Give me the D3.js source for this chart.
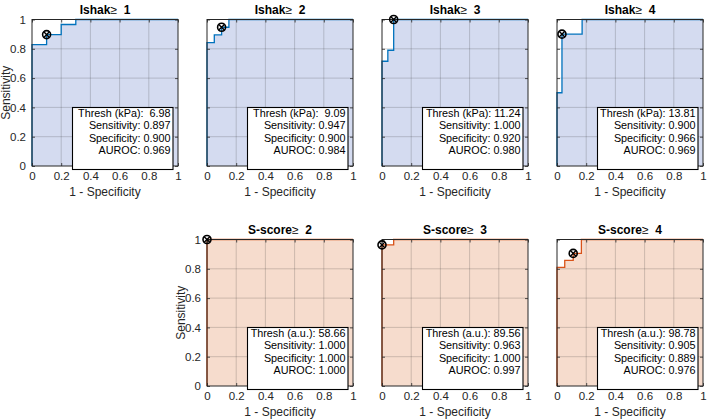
<!DOCTYPE html>
<html>
<head>
<meta charset="utf-8">
<script src="https://cdn.jsdelivr.net/npm/d3@7"></script>
<style>
  html, body { margin: 0; padding: 0; background: #fff; }
  svg text { font-family: "Liberation Sans", Arial, Helvetica, sans-serif; white-space: pre; }
</style>
</head>
<body>
<svg id="chart" width="709" height="420"></svg>
<script>
// ---------------- data ----------------
const panelTitles = ["Ishak", "Ishak", "Ishak", "Ishak", "S-score", "S-score", "S-score"];
const panelLevels = [1, 2, 3, 4, 2, 3, 4];
const threshLabels = ["Thresh (kPa):", "Thresh (kPa):", "Thresh (kPa):", "Thresh (kPa):",
                      "Thresh (a.u.):", "Thresh (a.u.):", "Thresh (a.u.):"];
const threshValues = [6.98, 9.09, 11.24, 13.81, 58.66, 89.56, 98.78];
const sensValues   = [0.897, 0.947, 1.000, 0.900, 1.000, 0.963, 0.905];
const specValues   = [0.900, 0.900, 0.920, 0.966, 1.000, 1.000, 0.889];
const aurocValues  = [0.969, 0.984, 0.980, 0.969, 1.000, 0.997, 0.976];

// ROC curve vertices (1 - specificity, sensitivity)
const rocFpr = [
  [0, 0, 0.1, 0.1, 0.2, 0.2, 0.3, 0.3, 1],
  [0, 0, 0.05, 0.05, 0.1, 0.1, 0.15, 0.15, 1],
  [0, 0, 0.04, 0.04, 0.08, 0.08, 1],
  [0, 0, 0.034, 0.034, 0.172, 0.172, 1],
  [0, 0, 1],
  [0, 0, 0.08, 0.08, 1],
  [0, 0, 0.053, 0.053, 0.111, 0.111, 0.167, 0.167, 1]
];
const rocTpr = [
  [0, 0.828, 0.828, 0.897, 0.897, 0.966, 0.966, 1, 1],
  [0, 0.842, 0.842, 0.895, 0.895, 0.947, 0.947, 1, 1],
  [0, 0.715, 0.715, 0.79, 0.79, 1, 1],
  [0, 0.5, 0.5, 0.9, 0.9, 1, 1],
  [0, 1, 1],
  [0, 0.963, 0.963, 1, 1],
  [0, 0.81, 0.81, 0.857, 0.857, 0.905, 0.905, 1, 1]
];
const tickValues = [0, 0.2, 0.4, 0.6, 0.8, 1];
const tickLabels = ["0", "0.2", "0.4", "0.6", "0.8", "1"];
const panelGroup = ["ishak", "ishak", "ishak", "ishak", "sscore", "sscore", "sscore"];

// ---------------- layout / style ----------------
const groupLine = { ishak: "#0072BD", sscore: "#D95319" };
const groupFill = { ishak: "#d4dbf0", sscore: "#f6dccd" };
const panelCol = [0, 1, 2, 3, 1, 2, 3];
const panelRow = [0, 0, 0, 0, 1, 1, 1];
const colLeft = 32, colStep = 175, axW = 146;
const rowTop = [19.5, 239.5], axH = 146.5;
const showY = [true, false, false, false, true, false, false];

const svg = d3.select("#chart");
const fmt2 = d3.format(".2f"), fmt3 = d3.format(".3f");

panelTitles.forEach((title, i) => {
  const x0 = colLeft + panelCol[i] * colStep;
  const y0 = rowTop[panelRow[i]];
  const g = svg.append("g").attr("transform", `translate(${x0},${y0})`);
  const x = d3.scaleLinear().domain([0, 1]).range([0, axW]);
  const y = d3.scaleLinear().domain([0, 1]).range([axH, 0]);

  // background
  g.append("rect").attr("width", axW).attr("height", axH).attr("fill", "#fff");

  const pts = rocFpr[i].map((f, k) => [f, rocTpr[i][k]]);
  // area under curve
  const area = d3.area().x(d => x(d[0])).y0(y(0)).y1(d => y(d[1]));
  g.append("path").datum(pts).attr("d", area).attr("fill", groupFill[panelGroup[i]]);

  // grid
  g.append("g").selectAll("line.gx").data(tickValues.slice(1, -1)).join("line")
    .attr("x1", d => x(d)).attr("x2", d => x(d)).attr("y1", 0).attr("y2", axH)
    .attr("stroke", "#262626").attr("stroke-opacity", 0.2).attr("stroke-width", 1);
  g.append("g").selectAll("line.gy").data(tickValues.slice(1, -1)).join("line")
    .attr("y1", d => y(d)).attr("y2", d => y(d)).attr("x1", 0).attr("x2", axW)
    .attr("stroke", "#262626").attr("stroke-opacity", 0.2).attr("stroke-width", 1);

  // curve
  const line = d3.line().x(d => x(d[0])).y(d => y(d[1]));
  g.append("path").datum(pts).attr("d", line).attr("fill", "none")
    .attr("stroke", groupLine[panelGroup[i]]).attr("stroke-width", 1.3);

  // axes (bottom with labels, others tick only, ticks inward)
  const axB = g.append("g").attr("transform", `translate(0,${axH})`)
    .call(d3.axisBottom(x).tickValues(tickValues).tickFormat((d, k) => tickLabels[k]).tickSizeInner(-3).tickSizeOuter(0).tickPadding(6));
  const axT = g.append("g")
    .call(d3.axisTop(x).tickValues(tickValues).tickFormat("").tickSizeInner(-3).tickSizeOuter(0));
  const axL = g.append("g")
    .call(d3.axisLeft(y).tickValues(tickValues).tickFormat(showY[i] ? ((d, k) => tickLabels[k]) : "").tickSizeInner(-3).tickSizeOuter(0).tickPadding(6));
  const axR = g.append("g").attr("transform", `translate(${axW},0)`)
    .call(d3.axisRight(y).tickValues(tickValues).tickFormat("").tickSizeInner(-3).tickSizeOuter(0));
  [axB, axT, axL, axR].forEach(a => {
    a.select(".domain").remove();
    a.selectAll(".tick line").attr("stroke", "#262626").attr("stroke-width", 0.8);
    a.selectAll(".tick text").attr("font-size", 11.5).attr("fill", "#262626")
      .style("font-family", '"Liberation Sans", Arial, sans-serif');
  });
  g.append("rect").attr("width", axW).attr("height", axH).attr("fill", "none")
    .attr("stroke", "#262626").attr("stroke-width", 1);

  // title
  const t = g.append("text").attr("x", axW / 2).attr("y", -5.5).attr("text-anchor", "middle")
    .attr("font-size", 12).attr("fill", "#000");
  t.append("tspan").attr("font-weight", "bold").text(title);
  t.append("tspan").attr("font-weight", "normal").text("\u2265 ");
  t.append("tspan").attr("font-weight", "bold").text(" " + panelLevels[i]);

  // x label
  g.append("text").attr("x", axW / 2).attr("y", axH + 29.5).attr("text-anchor", "middle")
    .attr("font-size", 12).attr("fill", "#262626").text("1 - Specificity");
  if (showY[i]) {
    g.append("text").attr("transform", `translate(-22.5,${axH / 2}) rotate(-90)`)
      .attr("text-anchor", "middle").attr("font-size", 12).attr("fill", "#262626").text("Sensitivity");
  }

  // legend box
  const bx = 40.5, by = 88, bw = 100.5, bh = 62;
  g.append("rect").attr("x", bx).attr("y", by).attr("width", bw).attr("height", bh)
    .attr("fill", "#fff").attr("stroke", "#000").attr("stroke-width", 1.1);
  const tv = threshValues[i] < 10 ? " " + fmt2(threshValues[i]) : fmt2(threshValues[i]);
  const lines = [
    threshLabels[i] + " " + tv,
    "Sensitivity: " + fmt3(sensValues[i]),
    "Specificity: " + fmt3(specValues[i]),
    "AUROC: " + fmt3(aurocValues[i])
  ];
  lines.forEach((s, k) => {
    g.append("text").attr("x", bx + bw - 2.5).attr("y", by + 9.5 + k * 12.4)
      .attr("text-anchor", "end").attr("font-size", 10.8).attr("fill", "#000").text(s);
  });

  // operating point marker (circle with cross)
  const mx = x(1 - specValues[i]), my = y(sensValues[i]);
  const m = g.append("g").attr("transform", `translate(${mx},${my})`);
  m.append("circle").attr("r", 4).attr("fill", "none").attr("stroke", "#000").attr("stroke-width", 1.6);
  m.append("path").attr("d", "M-2.8,-2.8L2.8,2.8M-2.8,2.8L2.8,-2.8").attr("stroke", "#000").attr("stroke-width", 1.4);
});
</script>
</body>
</html>
